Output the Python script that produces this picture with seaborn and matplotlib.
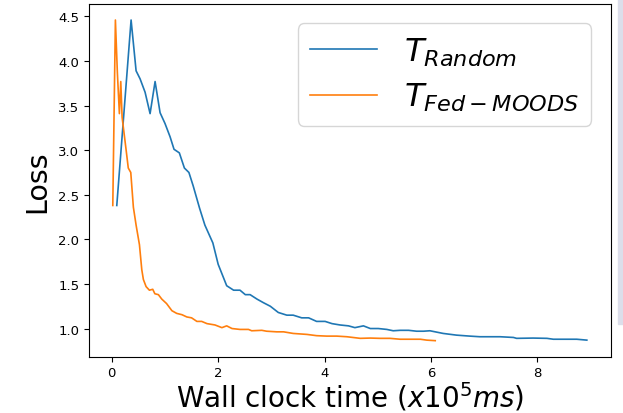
import matplotlib
matplotlib.use("Agg")
import matplotlib.pyplot as plt
import seaborn as sns
import pandas as pd
from matplotlib.patches import Rectangle

# Wall clock time (x10^5 ms) and loss values
random_x = [0.094, 0.363, 0.457, 0.532, 0.626, 0.72, 0.814, 0.908, 1.0, 1.096, 1.17, 1.27,
            1.365, 1.45, 1.53, 1.65, 1.75, 1.90, 2.00, 2.16, 2.29, 2.41, 2.51, 2.60, 2.73,
            2.85, 2.98, 3.13, 3.29, 3.41, 3.57, 3.70, 3.85, 4.01, 4.14, 4.29, 4.45, 4.57,
            4.73, 4.86, 5.01, 5.17, 5.29, 5.42, 5.58, 5.73, 5.86, 5.98, 6.23, 6.48, 6.73,
            6.92, 7.30, 7.55, 7.61, 7.92, 8.18, 8.30, 8.55, 8.74, 8.93]
random_y = [2.38, 4.46, 3.89, 3.80, 3.65, 3.41, 3.77, 3.42, 3.30, 3.15, 3.01, 2.97,
            2.80, 2.75, 2.60, 2.35, 2.16, 1.96, 1.72, 1.48, 1.43, 1.43, 1.38, 1.38, 1.33,
            1.29, 1.25, 1.18, 1.15, 1.15, 1.12, 1.12, 1.08, 1.08, 1.055, 1.04, 1.03, 1.01,
            1.03, 1.00, 1.00, 0.99, 0.975, 0.98, 0.98, 0.97, 0.97, 0.975, 0.945, 0.926, 0.915,
            0.908, 0.908, 0.90, 0.89, 0.893, 0.89, 0.88, 0.88, 0.88, 0.87]

moods_x = [0.019, 0.068, 0.105, 0.143, 0.169, 0.194, 0.27, 0.31, 0.357, 0.406, 0.457,
           0.52, 0.564, 0.594, 0.645, 0.707, 0.77, 0.81, 0.876, 0.94, 1.03, 1.13, 1.22,
           1.32, 1.41, 1.50, 1.60, 1.69, 1.79, 1.94, 2.07, 2.16, 2.26, 2.41, 2.57, 2.63,
           2.82, 2.91, 3.10, 3.23, 3.41, 3.67, 3.85, 4.04, 4.23, 4.42, 4.67, 4.86, 5.04,
           5.23, 5.42, 5.61, 5.80, 5.92, 6.08]
moods_y = [2.38, 4.46, 3.87, 3.41, 3.77, 3.37, 3.00, 2.80, 2.75, 2.36, 2.16,
           1.94, 1.66, 1.55, 1.47, 1.43, 1.44, 1.39, 1.38, 1.33, 1.28, 1.20, 1.17,
           1.155, 1.13, 1.12, 1.08, 1.08, 1.055, 1.04, 1.01, 1.03, 1.00, 0.99, 0.99, 0.975,
           0.98, 0.97, 0.963, 0.963, 0.945, 0.934, 0.92, 0.915, 0.915, 0.908, 0.89, 0.893, 0.89,
           0.89, 0.88, 0.88, 0.88, 0.87, 0.864]

labels = [r'$T_{Random}$', r'$T_{Fed-MOODS}$']

df = pd.concat([
    pd.DataFrame({"x": random_x, "y": random_y, "method": labels[0]}),
    pd.DataFrame({"x": moods_x, "y": moods_y, "method": labels[1]}),
], ignore_index=True)

fig = plt.figure(figsize=(6.23, 4.14), dpi=100)
ax = fig.add_axes([0.143, 0.136, 0.837, 0.852])

sns.lineplot(data=df, x="x", y="y", hue="method", sort=False, estimator=None,
             palette=["#1f77b4", "#ff7f0e"], linewidth=1.2, ax=ax)

ax.set_xticks([0, 2, 4, 6, 8])
ax.set_yticks([1.0, 1.5, 2.0, 2.5, 3.0, 3.5, 4.0, 4.5])
ax.tick_params(labelsize=9.5)
ax.set_xlabel(r'Wall clock time ($x10^5ms$)', fontsize=20, labelpad=0)
ax.set_ylabel('Loss', fontsize=20.5, labelpad=5)

leg = ax.legend(fontsize=23, loc='upper right', handlelength=2.1,
                handletextpad=0.85, borderaxespad=0.6, borderpad=0.38,
                labelspacing=0.42)
leg.set_title(None)

# page strip at right edge
fig.patches.append(Rectangle((618/623, 1 - 325/414), 5/623, 325/414,
                             transform=fig.transFigure, color='#dcdeea', zorder=-1))

fig.savefig("out.png", dpi=100)
